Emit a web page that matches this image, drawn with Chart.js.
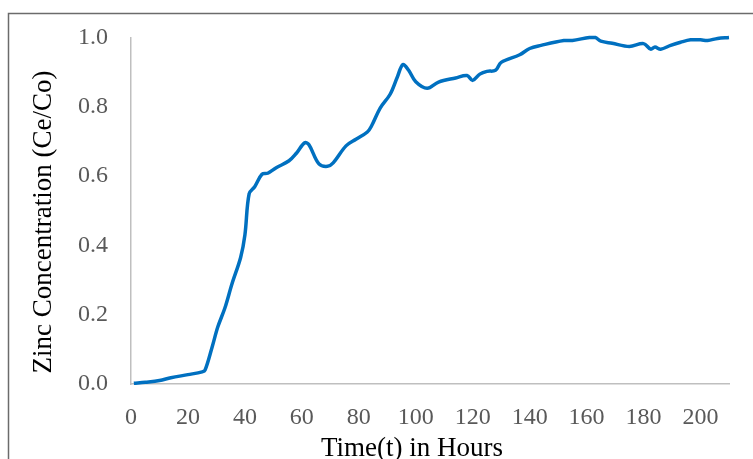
<!DOCTYPE html>
<html>
<head>
<meta charset="utf-8">
<script src="https://cdn.jsdelivr.net/npm/chart.js@4.4.0/dist/chart.umd.min.js"></script>
<style>
  html, body { margin: 0; padding: 0; background: #fff; }
  #wrap { width: 753px; height: 459px; position: relative; }
</style>
</head>
<body>
<div id="wrap"><canvas id="zincChart" width="753" height="459"></canvas></div>
<script>
// breakthrough curve readings
var timeHours = [1, 5, 10, 14, 20, 25, 26, 28.5, 30.5, 33, 35.5, 38.5, 40, 41.5, 43.5, 46, 48, 51, 55.5, 58, 61, 62.5, 66, 69, 71, 75.5, 79, 83, 84.5, 87.5, 91, 93.5, 95.5, 97.5, 100, 104, 108, 114, 118, 120, 122.5, 125, 128, 130, 136.5, 140, 144, 152, 155, 161, 163, 165, 169, 175, 180, 182.5, 184, 186, 189.5, 193, 196.5, 200, 202.5, 206, 210];
var zincRatio = [0.002, 0.005, 0.01, 0.018, 0.027, 0.035, 0.04, 0.107, 0.165, 0.22, 0.29, 0.365, 0.43, 0.549, 0.57, 0.605, 0.608, 0.624, 0.644, 0.665, 0.696, 0.69, 0.635, 0.628, 0.638, 0.687, 0.706, 0.727, 0.745, 0.796, 0.836, 0.885, 0.922, 0.905, 0.872, 0.853, 0.871, 0.883, 0.89, 0.876, 0.894, 0.902, 0.905, 0.928, 0.95, 0.968, 0.977, 0.991, 0.991, 1.0, 1.0, 0.989, 0.983, 0.974, 0.982, 0.966, 0.972, 0.966, 0.977, 0.986, 0.993, 0.993, 0.991, 0.997, 1.0];
var xTicks = [0, 20, 40, 60, 80, 100, 120, 140, 160, 180, 200];
var yTicks = [0, 0.2, 0.4, 0.6, 0.8, 1.0];
var xTitle = "Time(t) in Hours";
var yTitle = "Zinc Concentration (Ce/Co)";

var points = [];
for(let i = 0; i < timeHours.length; i++){
    points.push({x: timeHours[i], y: zincRatio[i]});
}

var serif = "'Liberation Serif', 'Times New Roman', serif";

// outer frame of the chart box
var framePlugin = {
    id: "frame",
    beforeDraw: function(chart){
        let ctx = chart.ctx;
        ctx.save();
        ctx.strokeStyle = "#6b6b6b";
        ctx.lineWidth = 1.5;
        ctx.strokeRect(8.5, 13.5, 800, 500);
        ctx.restore();
    }
};

// axis titles, placed against the whole box rather than the plot area
var titlePlugin = {
    id: "axisTitles",
    afterDraw: function(chart){
        let ctx = chart.ctx;
        ctx.save();
        ctx.fillStyle = "#000";
        ctx.textAlign = "center";
        ctx.textBaseline = "alphabetic";
        ctx.font = "27px " + serif;
        ctx.fillText(xTitle, 412, 456);
        ctx.translate(44, 222);
        ctx.rotate(-Math.PI / 2);
        ctx.textBaseline = "middle";
        ctx.font = "27px " + serif;
        ctx.fillText(yTitle, 0, 0);
        ctx.restore();
    }
};

var tickFont = {family: serif, size: 24};

new Chart(document.getElementById("zincChart"), {
    type: "line",
    data: {
        datasets: [{
            data: points,
            borderColor: "#0070C0",
            borderWidth: 3.5,
            pointRadius: 0,
            tension: 0.35,
            fill: false
        }]
    },
    options: {
        responsive: false,
        animation: false,
        layout: {padding: {top: 36, right: 24, bottom: 0, left: 0}},
        plugins: {legend: {display: false}, tooltip: {enabled: false}},
        clip: false,
        scales: {
            x: {
                type: "linear",
                min: 0,
                max: 210,
                afterFit: function(s){ s.height = 75; },
                afterBuildTicks: function(s){
                    s.ticks = xTicks.map(function(v){ return {value: v}; });
                },
                grid: {display: false, drawTicks: false},
                border: {color: "#bfbfbf", width: 1.5},
                ticks: {color: "#595959", font: tickFont, padding: 19, maxRotation: 0}
            },
            y: {
                min: 0,
                max: 1,
                afterFit: function(s){ s.width = 131; },
                afterBuildTicks: function(s){
                    s.ticks = yTicks.map(function(v){ return {value: v}; });
                },
                grid: {display: false, drawTicks: false},
                border: {color: "#bfbfbf", width: 1.5},
                ticks: {
                    color: "#595959",
                    font: tickFont,
                    padding: 23,
                    callback: function(v){ return Number(v).toFixed(1); }
                }
            }
        }
    },
    plugins: [framePlugin, titlePlugin]
});
</script>
</body>
</html>
